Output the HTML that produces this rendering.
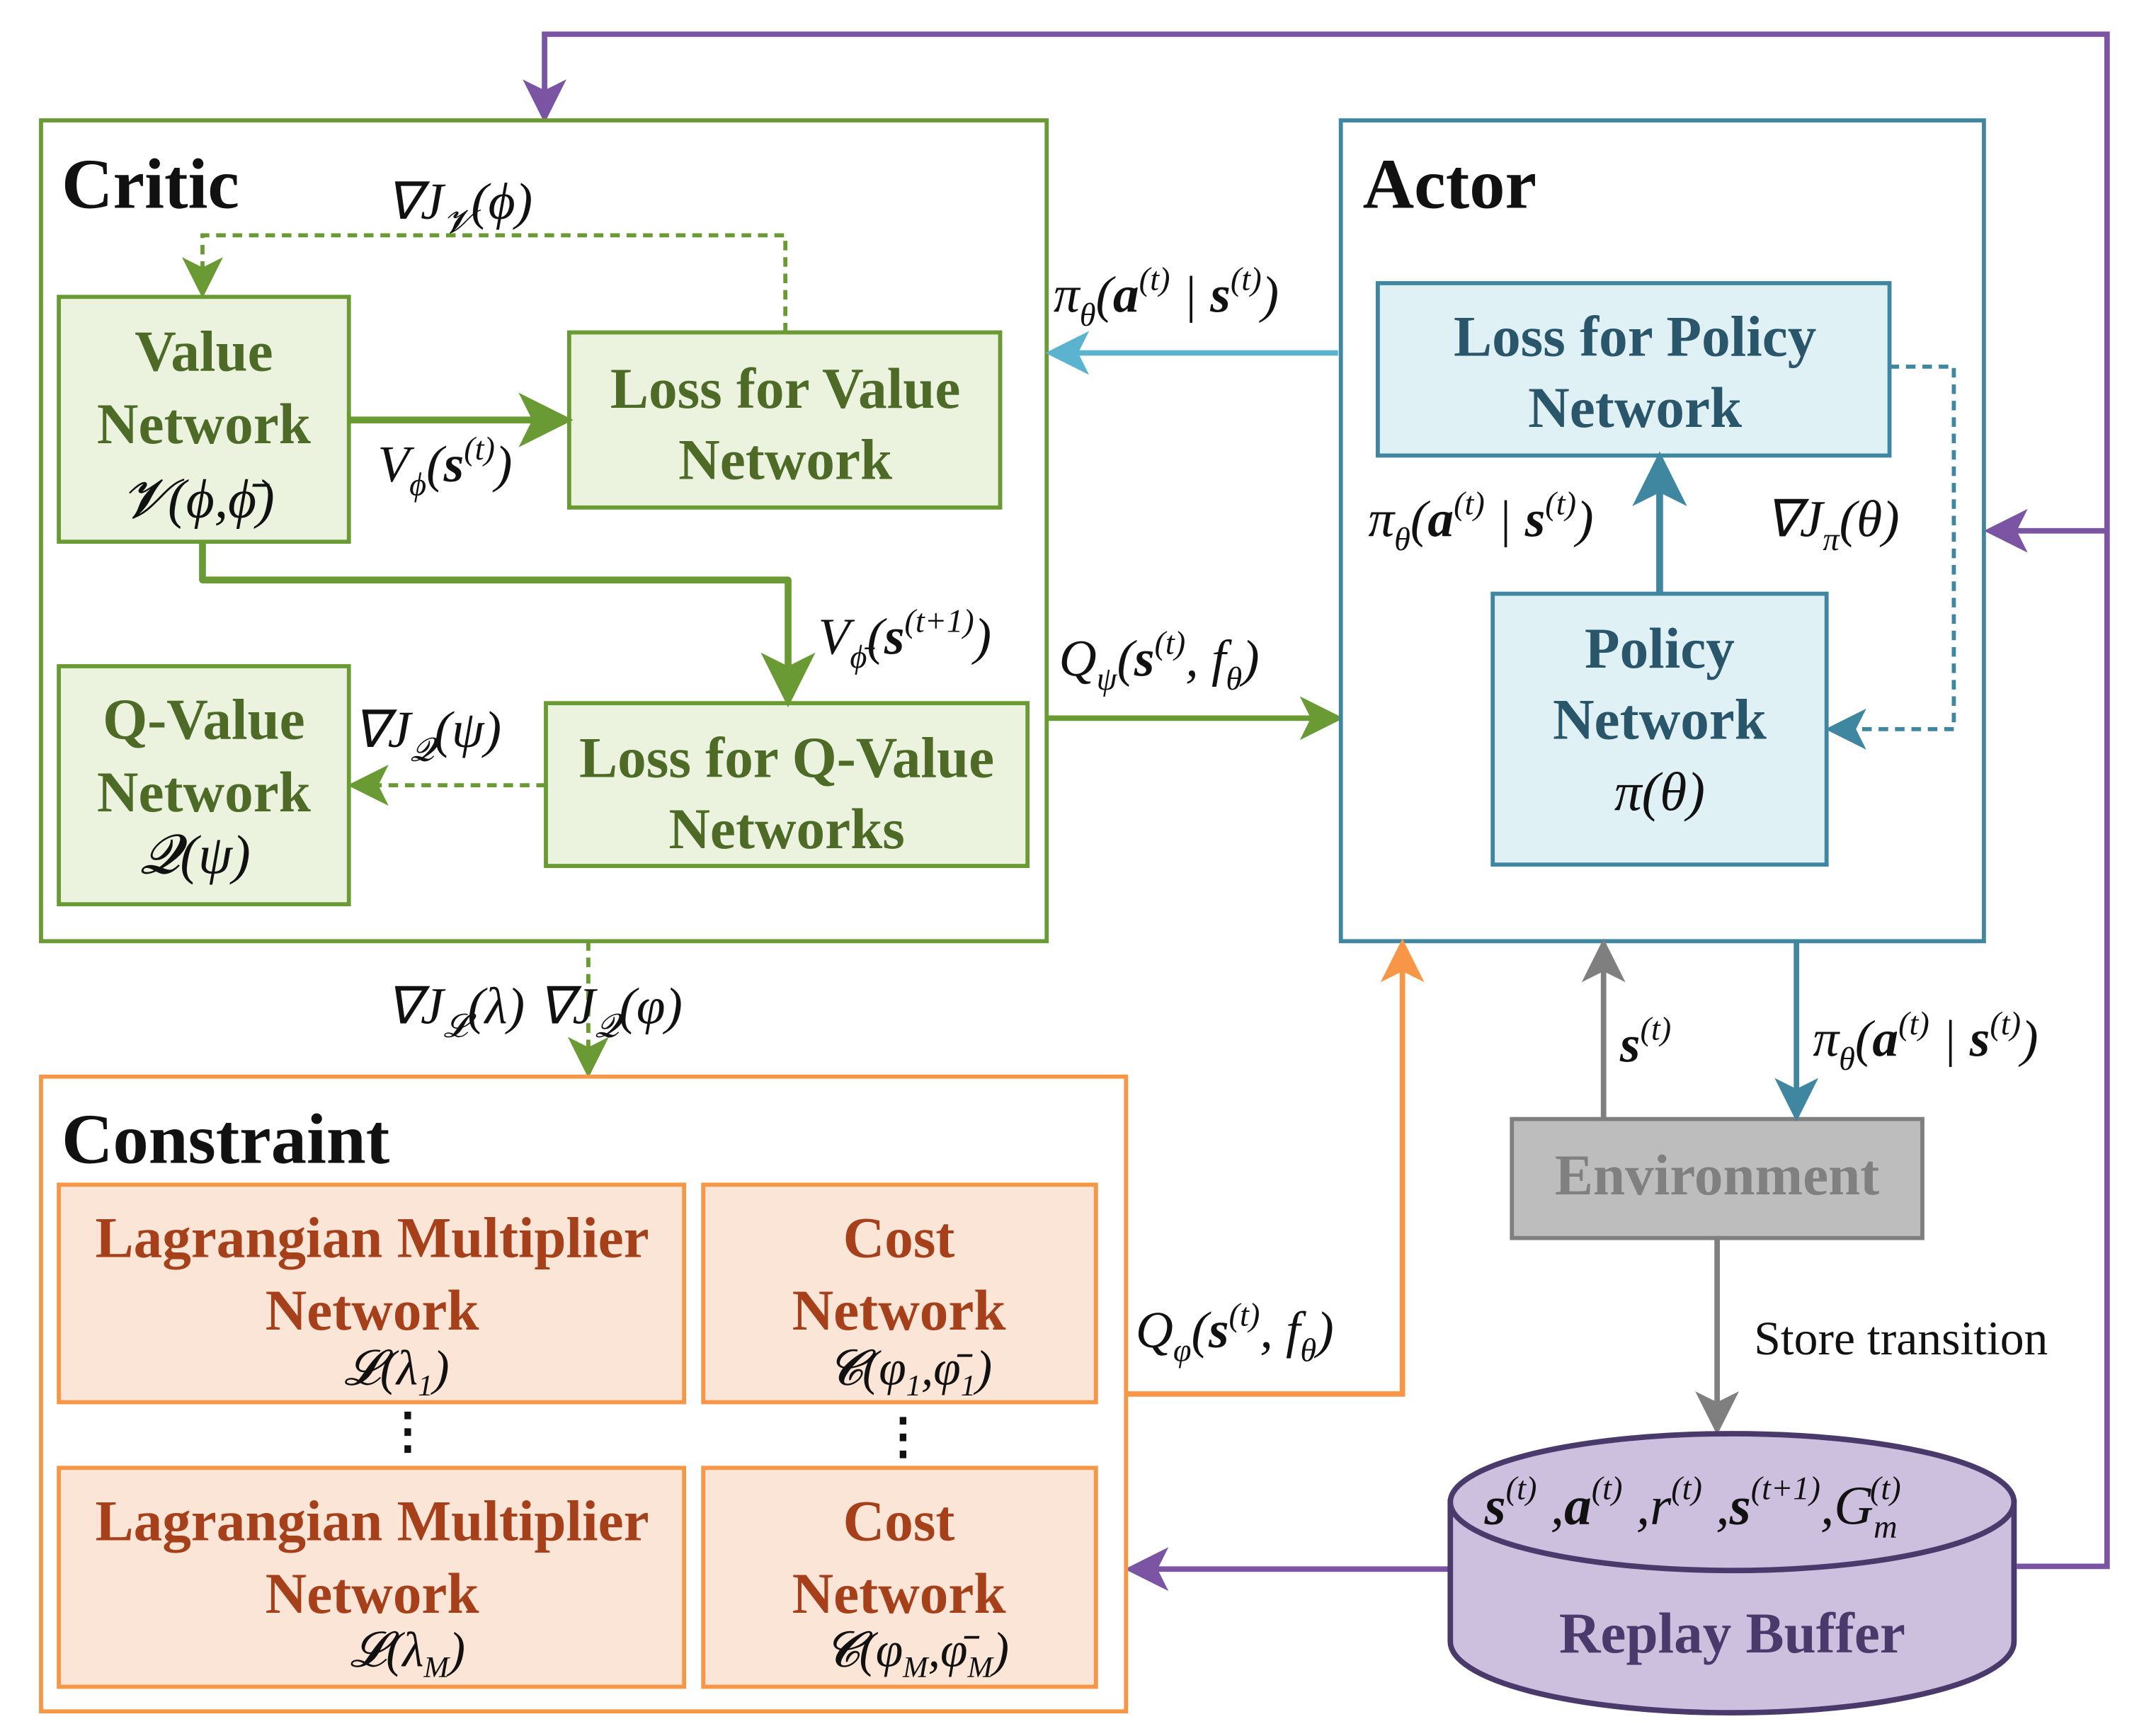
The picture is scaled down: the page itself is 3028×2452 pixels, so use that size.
<!DOCTYPE html>
<html><head><meta charset="utf-8"><style>
html,body{margin:0;padding:0;background:#fff;}
svg{display:block;}
.b{font-family:"Liberation Serif",serif;font-weight:bold;}
.m{font-family:"Liberation Serif",serif;font-style:italic;fill:#111;}
</style></head><body>
<svg width="3028" height="2452" viewBox="0 0 1567 1269" preserveAspectRatio="none" xmlns="http://www.w3.org/2000/svg">
<defs>
<marker id="ag" markerWidth="8" markerHeight="8" refX="7" refY="4" orient="auto" markerUnits="strokeWidth"><path d="M0,0 L8,4 L0,8 L2,4z" fill="#6a9a34"/></marker>
<marker id="ag2" markerWidth="10" markerHeight="10" refX="9" refY="5" orient="auto" markerUnits="strokeWidth"><path d="M0,0 L10,5 L0,10 L2.5,5z" fill="#6a9a34"/></marker>
<marker id="ab" markerWidth="8" markerHeight="8" refX="7" refY="4" orient="auto" markerUnits="strokeWidth"><path d="M0,0 L8,4 L0,8 L2,4z" fill="#5bb3d0"/></marker>
<marker id="at" markerWidth="8" markerHeight="8" refX="7" refY="4" orient="auto" markerUnits="strokeWidth"><path d="M0,0 L8,4 L0,8 L2,4z" fill="#3f87a0"/></marker>
<marker id="at2" markerWidth="10" markerHeight="10" refX="9" refY="5" orient="auto" markerUnits="strokeWidth"><path d="M0,0 L10,5 L0,10 L2.5,5z" fill="#3f87a0"/></marker>
<marker id="ay" markerWidth="8" markerHeight="8" refX="7" refY="4" orient="auto" markerUnits="strokeWidth"><path d="M0,0 L8,4 L0,8 L2,4z" fill="#7f7f7f"/></marker>
<marker id="ao" markerWidth="8" markerHeight="8" refX="7" refY="4" orient="auto" markerUnits="strokeWidth"><path d="M0,0 L8,4 L0,8 L2,4z" fill="#f79646"/></marker>
<marker id="ap" markerWidth="8" markerHeight="8" refX="7" refY="4" orient="auto" markerUnits="strokeWidth"><path d="M0,0 L8,4 L0,8 L2,4z" fill="#7b55a3"/></marker>
</defs>

<polyline points="1474,1145 1540,1145 1540,25 398,25 398,86" fill="none" stroke="#7b55a3" stroke-width="4" marker-end="url(#ap)"/>
<line x1="1540" y1="388" x2="1454" y2="388" stroke="#7b55a3" stroke-width="4" marker-end="url(#ap)"/>
<line x1="1060" y1="1147" x2="826" y2="1147" stroke="#7b55a3" stroke-width="4" marker-end="url(#ap)"/>

<rect x="30" y="88" width="735" height="600" fill="#fff" stroke="#6a9a34" stroke-width="3"/>
<text x="45" y="152" class="b" font-size="52" fill="#111">Critic</text>
<rect x="43" y="217" width="212" height="179" fill="#ebf3df" stroke="#6a9a34" stroke-width="3"/>
<text class="b" font-size="42" fill="#4d6b27" text-anchor="middle"><tspan x="149" y="271">Value</tspan><tspan x="149" y="324">Network</tspan></text>
<text class="m" font-size="40" x="145" y="378" text-anchor="middle">𝓥(ϕ,ϕ̄)</text>
<rect x="416" y="243" width="315" height="128" fill="#ebf3df" stroke="#6a9a34" stroke-width="3"/>
<text class="b" font-size="42" fill="#4d6b27" text-anchor="middle"><tspan x="574" y="298">Loss for Value</tspan><tspan x="574" y="350">Network</tspan></text>
<rect x="43" y="487" width="212" height="174" fill="#ebf3df" stroke="#6a9a34" stroke-width="3"/>
<text class="b" font-size="42" fill="#4d6b27" text-anchor="middle"><tspan x="149" y="540">Q-Value</tspan><tspan x="149" y="593">Network</tspan></text>
<text class="m" font-size="40" x="143" y="638" text-anchor="middle">𝓠(ψ)</text>
<rect x="399" y="514" width="352" height="119" fill="#ebf3df" stroke="#6a9a34" stroke-width="3"/>
<text class="b" font-size="42" fill="#4d6b27" text-anchor="middle"><tspan x="575" y="568">Loss for Q-Value</tspan><tspan x="575" y="620">Networks</tspan></text>

<line x1="255" y1="307" x2="414" y2="307" stroke="#6a9a34" stroke-width="5" marker-end="url(#ag)"/>
<polyline points="574,243 574,172 148,172 148,215" fill="none" stroke="#6a9a34" stroke-width="3" stroke-dasharray="7,5" marker-end="url(#ag2)"/>
<polyline points="148,396 148,424 576,424 576,512" fill="none" stroke="#6a9a34" stroke-width="5" stroke-linejoin="round" marker-end="url(#ag)"/>
<line x1="399" y1="574" x2="257" y2="574" stroke="#6a9a34" stroke-width="3" stroke-dasharray="7,5" marker-end="url(#ag2)"/>
<line x1="765" y1="525" x2="978" y2="525" stroke="#6a9a34" stroke-width="4" marker-end="url(#ag)"/>
<line x1="430" y1="688" x2="430" y2="785" stroke="#6a9a34" stroke-width="3" stroke-dasharray="7,5" marker-end="url(#ag2)"/>

<text class="m" font-size="38" x="282" y="160">∇J<tspan font-size="24" dy="10">𝓥</tspan><tspan dy="-10">(ϕ)</tspan></text>
<text class="m" font-size="38" x="276" y="352">V<tspan font-size="24" dy="10">ϕ</tspan><tspan dy="-10">(</tspan><tspan font-weight="bold">s</tspan><tspan font-size="24" dy="-16">(t)</tspan><tspan dy="16">)</tspan></text>
<text class="m" font-size="38" x="598" y="478">V<tspan font-size="24" dy="10">ϕ̄</tspan><tspan dy="-10">(</tspan><tspan font-weight="bold">s</tspan><tspan font-size="24" dy="-16">(t+1)</tspan><tspan dy="16">)</tspan></text>
<text class="m" font-size="38" x="258" y="546">∇J<tspan font-size="24" dy="10">𝓠</tspan><tspan dy="-10">(ψ)</tspan></text>
<text class="m" font-size="38" x="774" y="494">Q<tspan font-size="24" dy="10">ψ</tspan><tspan dy="-10">(</tspan><tspan font-weight="bold">s</tspan><tspan font-size="24" dy="-16">(t)</tspan><tspan dy="16">, f</tspan><tspan font-size="24" dy="10">θ</tspan><tspan dy="-10">)</tspan></text>
<text class="m" font-size="38" x="282" y="748">∇J<tspan font-size="24" dy="10">𝓛</tspan><tspan dy="-10">(λ) ∇J</tspan><tspan font-size="24" dy="10">𝓠</tspan><tspan dy="-10">(φ)</tspan></text>

<rect x="980" y="88" width="470" height="600" fill="#fff" stroke="#3f87a0" stroke-width="3"/>
<text x="996" y="152" class="b" font-size="52" fill="#111">Actor</text>
<rect x="1007" y="207" width="374" height="126" fill="#dff1f4" stroke="#3f87a0" stroke-width="3"/>
<text class="b" font-size="42" fill="#2a566b" text-anchor="middle"><tspan x="1195" y="260">Loss for Policy</tspan><tspan x="1195" y="312">Network</tspan></text>
<rect x="1091" y="434" width="244" height="198" fill="#dff1f4" stroke="#3f87a0" stroke-width="3"/>
<text class="b" font-size="42" fill="#2a566b" text-anchor="middle"><tspan x="1213" y="488">Policy</tspan><tspan x="1213" y="540">Network</tspan></text>
<text class="m" font-size="40" x="1213" y="592" text-anchor="middle">π(θ)</text>
<line x1="978" y1="258" x2="768" y2="258" stroke="#5bb3d0" stroke-width="4" marker-end="url(#ab)"/>
<line x1="1213" y1="434" x2="1213" y2="335" stroke="#3f87a0" stroke-width="5" marker-end="url(#at)"/>
<polyline points="1381,268 1428,268 1428,533 1337,533" fill="none" stroke="#3f87a0" stroke-width="3" stroke-dasharray="7,5" marker-end="url(#at2)"/>
<text class="m" font-size="38" x="770" y="228">π<tspan font-size="24" dy="10">θ</tspan><tspan dy="-10">(</tspan><tspan font-weight="bold">a</tspan><tspan font-size="24" dy="-16">(t)</tspan><tspan dy="16"> | </tspan><tspan font-weight="bold">s</tspan><tspan font-size="24" dy="-16">(t)</tspan><tspan dy="16">)</tspan></text>
<text class="m" font-size="38" x="1000" y="392">π<tspan font-size="24" dy="10">θ</tspan><tspan dy="-10">(</tspan><tspan font-weight="bold">a</tspan><tspan font-size="24" dy="-16">(t)</tspan><tspan dy="16"> | </tspan><tspan font-weight="bold">s</tspan><tspan font-size="24" dy="-16">(t)</tspan><tspan dy="16">)</tspan></text>
<text class="m" font-size="38" x="1290" y="392">∇J<tspan font-size="24" dy="10">π</tspan><tspan dy="-10">(θ)</tspan></text>

<rect x="1105" y="818" width="300" height="87" fill="#bdbdbd" stroke="#7f7f7f" stroke-width="3"/>
<text x="1255" y="873" class="b" font-size="42" fill="#808080" text-anchor="middle">Environment</text>
<line x1="1172" y1="818" x2="1172" y2="690" stroke="#7f7f7f" stroke-width="4" marker-end="url(#ay)"/>
<line x1="1313" y1="688" x2="1313" y2="816" stroke="#3f87a0" stroke-width="4" marker-end="url(#at)"/>
<line x1="1255" y1="905" x2="1255" y2="1045" stroke="#7f7f7f" stroke-width="4" marker-end="url(#ay)"/>
<text class="m" font-size="38" x="1184" y="776"><tspan font-weight="bold">s</tspan><tspan font-size="24" dy="-16">(t)</tspan></text>
<text class="m" font-size="38" x="1325" y="772">π<tspan font-size="24" dy="10">θ</tspan><tspan dy="-10">(</tspan><tspan font-weight="bold">a</tspan><tspan font-size="24" dy="-16">(t)</tspan><tspan dy="16"> | </tspan><tspan font-weight="bold">s</tspan><tspan font-size="24" dy="-16">(t)</tspan><tspan dy="16">)</tspan></text>
<text x="1282" y="990" font-family="Liberation Serif,serif" font-size="35" fill="#111">Store transition</text>

<path d="M1060,1098 L1060,1200 A206,52 0 0 0 1472,1200 L1472,1098 Z" fill="#cdbfde" stroke="#4a3a6c" stroke-width="4"/>
<ellipse cx="1266" cy="1098" rx="206" ry="50" fill="#cdbfde" stroke="#4a3a6c" stroke-width="4"/>
<text x="1266" y="1208" class="b" font-size="42" fill="#4a3a6c" text-anchor="middle">Replay Buffer</text>
<text class="m" font-size="40" x="1085" y="1114"><tspan font-weight="bold">s</tspan><tspan font-size="24" dy="-18">(t)</tspan><tspan dy="18"> ,</tspan><tspan font-weight="bold">a</tspan><tspan font-size="24" dy="-18">(t)</tspan><tspan dy="18"> ,r</tspan><tspan font-size="24" dy="-18">(t)</tspan><tspan dy="18"> ,</tspan><tspan font-weight="bold">s</tspan><tspan font-size="24" dy="-18">(t+1)</tspan><tspan dy="18">,G</tspan><tspan font-size="24" dy="10">m</tspan><tspan font-size="24" dx="-20" dy="-28">(t)</tspan></text>

<rect x="30" y="787" width="793" height="464" fill="#fff" stroke="#f79646" stroke-width="3"/>
<text x="45" y="850" class="b" font-size="52" fill="#111">Constraint</text>
<polyline points="823,1019 1025,1019 1025,690" fill="none" stroke="#f79646" stroke-width="4" marker-end="url(#ao)"/>
<text class="m" font-size="38" x="830" y="985">Q<tspan font-size="24" dy="10">φ</tspan><tspan dy="-10">(</tspan><tspan font-weight="bold">s</tspan><tspan font-size="24" dy="-16">(t)</tspan><tspan dy="16">, f</tspan><tspan font-size="24" dy="10">θ</tspan><tspan dy="-10">)</tspan></text>

<rect x="43" y="866" width="457" height="159" fill="#fbe5d6" stroke="#f79646" stroke-width="3"/>
<text class="b" font-size="42" fill="#a5401b" text-anchor="middle"><tspan x="272" y="919">Lagrangian Multiplier</tspan><tspan x="272" y="972">Network</tspan></text>
<text class="m" font-size="36" x="290" y="1012" text-anchor="middle">𝓛(λ<tspan font-size="22" dy="8">1</tspan><tspan dy="-8">)</tspan></text>
<rect x="514" y="866" width="287" height="159" fill="#fbe5d6" stroke="#f79646" stroke-width="3"/>
<text class="b" font-size="42" fill="#a5401b" text-anchor="middle"><tspan x="657" y="919">Cost</tspan><tspan x="657" y="972">Network</tspan></text>
<text class="m" font-size="36" x="665" y="1012" text-anchor="middle">𝓒(φ<tspan font-size="22" dy="8">1</tspan><tspan dy="-8">,φ̄</tspan><tspan font-size="22" dy="8">1</tspan><tspan dy="-8">)</tspan></text>
<text class="b" font-size="36" x="298" y="1058" text-anchor="middle" fill="#111">⋮</text>
<text class="b" font-size="36" x="660" y="1062" text-anchor="middle" fill="#111">⋮</text>
<rect x="43" y="1073" width="457" height="160" fill="#fbe5d6" stroke="#f79646" stroke-width="3"/>
<text class="b" font-size="42" fill="#a5401b" text-anchor="middle"><tspan x="272" y="1126">Lagrangian Multiplier</tspan><tspan x="272" y="1179">Network</tspan></text>
<text class="m" font-size="36" x="298" y="1218" text-anchor="middle">𝓛(λ<tspan font-size="22" dy="8">M</tspan><tspan dy="-8">)</tspan></text>
<rect x="514" y="1073" width="287" height="160" fill="#fbe5d6" stroke="#f79646" stroke-width="3"/>
<text class="b" font-size="42" fill="#a5401b" text-anchor="middle"><tspan x="657" y="1126">Cost</tspan><tspan x="657" y="1179">Network</tspan></text>
<text class="m" font-size="36" x="670" y="1218" text-anchor="middle">𝓒(φ<tspan font-size="22" dy="8">M</tspan><tspan dy="-8">,φ̄</tspan><tspan font-size="22" dy="8">M</tspan><tspan dy="-8">)</tspan></text>
</svg>
</body></html>
